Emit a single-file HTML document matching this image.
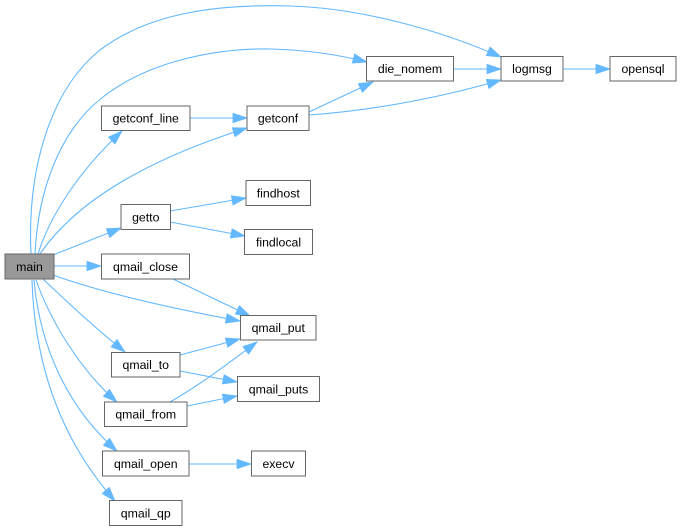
<!DOCTYPE html>
<html>
<head>
<meta charset="utf-8">
<style>
html,body{margin:0;padding:0;background:#fff;}
svg{display:block;}
text{font-family:"Liberation Sans",Arial,sans-serif;font-size:12.3px;fill:#000;}
</style>
</head>
<body>
<svg width="682" height="531" viewBox="0 0 682 531" xmlns="http://www.w3.org/2000/svg">
<defs>
<marker id="a" markerUnits="userSpaceOnUse" markerWidth="16" markerHeight="12" refX="14.5" refY="5.2" orient="auto">
<path d="M0.5,0.5 L14.5,5.2 L0.5,9.9 z" fill="#63b8ff" stroke="#63b8ff" stroke-width="0.8"/>
</marker>
</defs>
<g fill="none" stroke="#63b8ff" stroke-width="1.1" marker-end="url(#a)">
<path d="M31,254 C27,170 50,90 100,50 C150,12 220,4 290,6 C360,8 440,30 501,57"/>
<path d="M35,254 C38,190 60,130 103,97 C150,60 220,48 270,49 C310,50 340,55 367,62"/>
<path d="M38,254 C50,215 80,170 122,131"/>
<path d="M40,254 C70,210 130,165 247,128"/>
<path d="M53,255 L121,228"/>
<path d="M54,266 L101,266"/>
<path d="M53,275 C100,292 170,308 240,321"/>
<path d="M43,279 C65,300 95,328 125,352"/>
<path d="M36,280 C50,320 80,370 117,402"/>
<path d="M34,280 C40,350 70,410 117,451"/>
<path d="M32,280 C35,380 70,450 115,501"/>
<path d="M190,118 L247,118"/>
<path d="M309,112 L373,82"/>
<path d="M309,115 C380,110 450,95 501,80"/>
<path d="M454,69 L501,69"/>
<path d="M563,69 L610,69"/>
<path d="M170,211 L246,198"/>
<path d="M170,222 L245,236"/>
<path d="M173,279 L250,316"/>
<path d="M180,355 L240,339"/>
<path d="M180,371 L237,382"/>
<path d="M170,402 C200,385 230,362 257,342"/>
<path d="M187,406 L237,396"/>
<path d="M189,464 L251,464"/>
</g>
<g stroke="#666666" stroke-width="1" fill="#ffffff">
<rect x="5" y="254" width="49" height="25" fill="#999999"/>
<rect x="101.5" y="106" width="88.5" height="24.5"/>
<rect x="247" y="106" width="62" height="24.5"/>
<rect x="246" y="180.5" width="64.5" height="25"/>
<rect x="121" y="204.5" width="49.5" height="25"/>
<rect x="244.5" y="229.5" width="68" height="25"/>
<rect x="101.5" y="254" width="88" height="25"/>
<rect x="366.5" y="56.5" width="87" height="24.5"/>
<rect x="501" y="56.5" width="62" height="24.5"/>
<rect x="610" y="56.5" width="66" height="24.5"/>
<rect x="240.5" y="315.5" width="75.5" height="24.5"/>
<rect x="111.5" y="352.5" width="68.5" height="24.5"/>
<rect x="237.5" y="376.5" width="82" height="25"/>
<rect x="104.5" y="402" width="82.5" height="24.5"/>
<rect x="102.5" y="451" width="86.5" height="25"/>
<rect x="251.5" y="451" width="54" height="25"/>
<rect x="109.5" y="500.5" width="72.5" height="25"/>
</g>
<g text-anchor="middle">
<text x="29.5" y="271">main</text>
<text x="145.75" y="122.7">getconf_line</text>
<text x="278" y="122.7">getconf</text>
<text x="278.25" y="197.5">findhost</text>
<text x="145.75" y="221.5">getto</text>
<text x="278.5" y="246.5">findlocal</text>
<text x="145.5" y="271">qmail_close</text>
<text x="410" y="73">die_nomem</text>
<text x="532" y="73">logmsg</text>
<text x="643" y="73">opensql</text>
<text x="278.25" y="332">qmail_put</text>
<text x="145.75" y="369">qmail_to</text>
<text x="278.5" y="393.5">qmail_puts</text>
<text x="145.75" y="418.5">qmail_from</text>
<text x="145.75" y="468">qmail_open</text>
<text x="278.5" y="468">execv</text>
<text x="145.75" y="517.5">qmail_qp</text>
</g>
</svg>
</body>
</html>
